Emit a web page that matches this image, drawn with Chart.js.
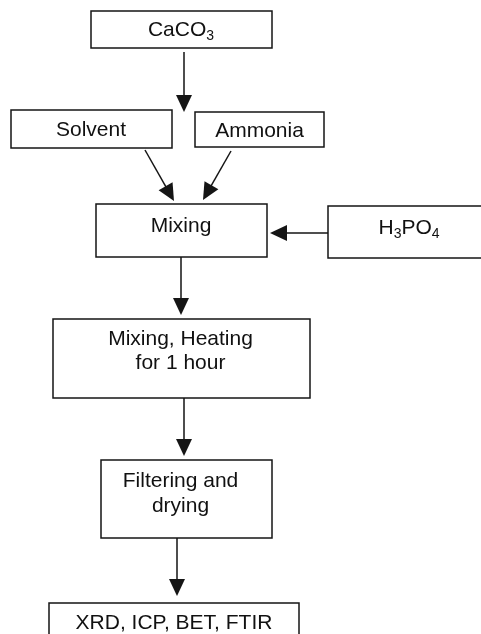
<!DOCTYPE html>
<html><head><meta charset="utf-8">
<script src="https://cdn.jsdelivr.net/npm/chart.js@4.4.1/dist/chart.umd.min.js"></script>
<style>html,body{margin:0;padding:0;background:#fff;overflow:hidden}#wrap{width:481px;height:634px;position:relative}</style>
</head><body><div id="wrap"><canvas id="c" width="481" height="634"></canvas></div>
<script>
// Flowchart steps (text; "_n" marks a subscript digit)
const stepLabels = [["CaCO_3"],["Solvent"],["Ammonia"],["Mixing"],["H_3PO_4"],["Mixing, Heating","for 1 hour"],["Filtering and","drying"],["XRD, ICP, BET, FTIR"]];
const boxLeft   = [91, 11, 195, 96, 328, 53, 101, 49];
const boxRight  = [272, 172, 324, 267, 500, 310, 272, 299];
const boxTop    = [11, 110, 112, 204, 206, 319, 460, 603];
const boxBottom = [48, 148, 147, 257, 258, 398, 538, 680];
const textCenterX = [181, 91, 259.5, 181, 409, 180.5, 180.5, 174];
const textBaselines = [[36],[136],[137],[232],[234],[345,369],[487,512],[629]];
// Arrows (from -> tip)
const arrowFromX = [184, 145, 231, 328, 181, 184, 177];
const arrowFromY = [52, 150, 151, 233, 257, 398, 538];
const arrowToX   = [184, 174, 203, 270, 181, 184, 177];
const arrowToY   = [112, 201, 200, 233, 315, 456, 596];

const INK = '#151515';
const HEAD_LEN = 17, HEAD_HALF = 8;
const FONT = '"Liberation Sans", Arial, Helvetica, sans-serif';
const MAIN_PX = 21, SUB_PX = 14, SUB_DROP = 4;

const datasets = arrowFromX.map((fx, i) => {
  const tx = arrowToX[i], ty = arrowToY[i], fy = arrowFromY[i];
  const dx = tx - fx, dy = ty - fy, L = Math.hypot(dx, dy);
  const ex = tx - dx / L * (HEAD_LEN - 3), ey = ty - dy / L * (HEAD_LEN - 3);
  return {
    type: 'scatter', showLine: true,
    data: [{x: fx, y: fy}, {x: ex, y: ey}],
    borderColor: INK, borderWidth: 1.5, pointRadius: 0, fill: false
  };
});

function runs(str) {
  const out = []; const re = /_(\d)/g; let last = 0, m;
  while ((m = re.exec(str))) {
    if (m.index > last) out.push({t: str.slice(last, m.index), sub: false});
    out.push({t: m[1], sub: true}); last = re.lastIndex;
  }
  if (last < str.length) out.push({t: str.slice(last), sub: false});
  return out;
}

const flowPlugin = {
  id: 'flow',
  afterDatasetsDraw(chart) {
    const ctx = chart.ctx, X = chart.scales.x, Y = chart.scales.y;
    ctx.save();
    // boxes
    ctx.strokeStyle = INK; ctx.lineWidth = 1.5;
    for (let i = 0; i < stepLabels.length; i++) {
      const l = X.getPixelForValue(boxLeft[i]), r = X.getPixelForValue(boxRight[i]);
      const t = Y.getPixelForValue(boxTop[i]), b = Y.getPixelForValue(boxBottom[i]);
      ctx.strokeRect(l, t, r - l, b - t);
    }
    // arrow heads
    ctx.fillStyle = INK;
    for (let i = 0; i < arrowFromX.length; i++) {
      const fx = X.getPixelForValue(arrowFromX[i]), fy = Y.getPixelForValue(arrowFromY[i]);
      const tx = X.getPixelForValue(arrowToX[i]), ty = Y.getPixelForValue(arrowToY[i]);
      const dx = tx - fx, dy = ty - fy, L = Math.hypot(dx, dy);
      const ux = dx / L, uy = dy / L, px = -uy, py = ux;
      const bx = tx - ux * HEAD_LEN, by = ty - uy * HEAD_LEN;
      ctx.beginPath();
      ctx.moveTo(tx, ty);
      ctx.lineTo(bx + px * HEAD_HALF, by + py * HEAD_HALF);
      ctx.lineTo(bx - px * HEAD_HALF, by - py * HEAD_HALF);
      ctx.closePath(); ctx.fill();
    }
    // text
    ctx.fillStyle = '#111'; ctx.textBaseline = 'alphabetic'; ctx.textAlign = 'left';
    for (let i = 0; i < stepLabels.length; i++) {
      const cx = X.getPixelForValue(textCenterX[i]);
      stepLabels[i].forEach((line, j) => {
        const by = Y.getPixelForValue(textBaselines[i][j]);
        const rs = runs(line);
        let w = 0;
        rs.forEach(r => { ctx.font = (r.sub ? SUB_PX : MAIN_PX) + 'px ' + FONT; r.w = ctx.measureText(r.t).width; w += r.w; });
        let x = cx - w / 2;
        rs.forEach(r => {
          ctx.font = (r.sub ? SUB_PX : MAIN_PX) + 'px ' + FONT;
          ctx.fillText(r.t, x, by + (r.sub ? SUB_DROP : 0));
          x += r.w;
        });
      });
    }
    ctx.restore();
  }
};

new Chart(document.getElementById('c'), {
  type: 'scatter',
  data: { datasets },
  options: {
    responsive: false, animation: false, devicePixelRatio: 1, events: [],
    layout: { padding: 0 },
    plugins: { legend: { display: false }, tooltip: { enabled: false } },
    scales: {
      x: { type: 'linear', min: 0, max: 481, display: false },
      y: { type: 'linear', min: 0, max: 634, reverse: true, display: false }
    }
  },
  plugins: [flowPlugin]
});
</script></body></html>
